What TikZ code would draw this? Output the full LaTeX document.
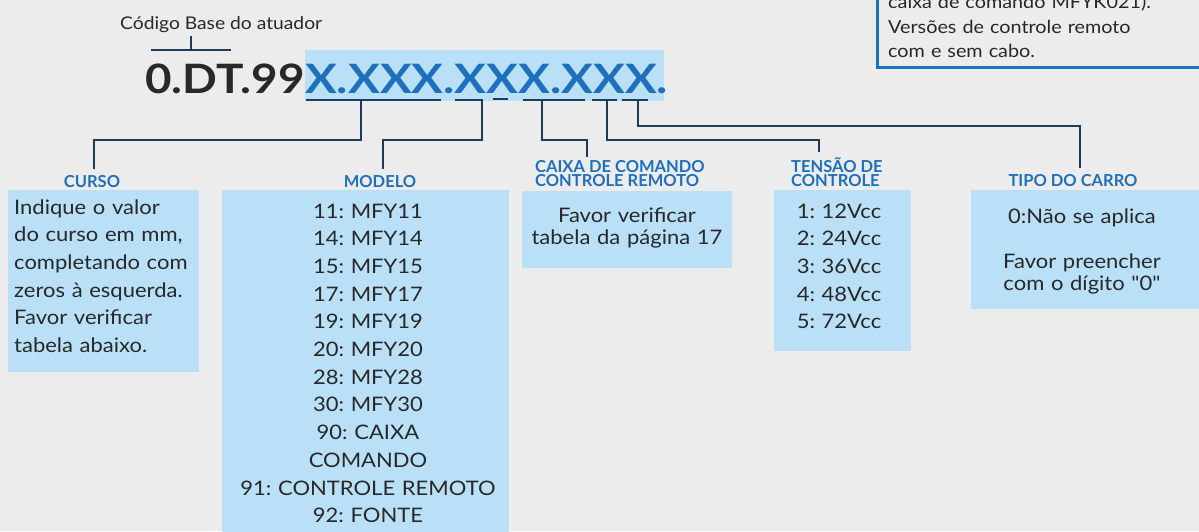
\documentclass[tikz,border=0pt]{standalone}
\usepackage{fontspec}
\setmainfont{Lato}[FakeStretch=1.1, Ligatures=TeXOff]
\newfontfamily\lblfont{Lato}[Ligatures=TeXOff]
\newfontfamily\codeblack{Lato}[FakeStretch=1.13]
\newfontfamily\codeblue{Lato}[FakeStretch=1.17]
\usepackage{tikz}

\definecolor{bggray}{RGB}{236,236,236}
\definecolor{boxblue}{RGB}{185,224,247}
\definecolor{codeblue}{RGB}{30,112,190}
\definecolor{linenavy}{RGB}{30,58,92}
\definecolor{txtdark}{RGB}{40,40,40}

\tikzset{
  box/.style={fill=boxblue},
  link/.style={draw=linenavy, line width=2.4pt},
  uline/.style={draw=linenavy, line width=2pt},
  lbl/.style={text=codeblue, inner sep=0pt, align=left,
    font=\lblfont\bfseries\fontsize{16.5}{13.5}\selectfont},
  boxtxt/.style={text=txtdark, inner sep=0pt,
    font=\fontsize{20}{27.7}\selectfont},
}

\begin{document}
\frenchspacing
\begin{tikzpicture}[x=1pt,y=-1pt]
  \useasboundingbox (0,0) rectangle (1199,531);
  \fill[bggray] (0,0) rectangle (1199,531);

  % nota no canto
  \draw[codeblue, line width=3pt] (877,-10) -- (877,67) -- (1210,67);
  \node[anchor=base west, text width=310pt, align=left, inner sep=0pt, text=txtdark,
    font=\fontsize{18}{24.5}\selectfont] (nota) at (888,8.5)
    {caixa de comando MFYK021).\\Versões de controle remoto\\com e sem cabo.};

  % codigo base
  \node[anchor=base west, inner sep=0pt, text=txtdark, font=\fontsize{17.5}{20}\selectfont]
    (basecap) at (120,29) {Código Base do atuador};
  \coordinate (tick) at (191,50);
  \draw[uline] (151,50) -- (231,50);
  \draw[uline] (tick) -- ++(0,-14);

  \fill[boxblue] (305,50) rectangle (664,101);
  \node[anchor=base east, inner sep=0pt, text=txtdark, font=\codeblack\bfseries\fontsize{40.5}{40}\selectfont]
    (codea) at (305,93) {0.DT.99};
  \node[anchor=base west, inner sep=0pt, text=codeblue, font=\codeblue\bfseries\fontsize{40.5}{40}\selectfont]
    (codeb) at (codea.base east) {X.XXX.XXX.XXX.};
  \foreach \a/\b in {306/441,455/483,523/585,592/617,622/648}
    \draw[uline] (\a,100) -- (\b,100);
  \draw[uline, line width=2.4pt] (493,99) -- (508,99);

  \coordinate (u1) at (361,100);
  \coordinate (u2) at (482,100);
  \coordinate (u3) at (542,100);
  \coordinate (u4) at (607,100);
  \coordinate (u5) at (638,100);

  % rotulos
  \node[lbl, anchor=base] (cursolbl) at (92,187) {CURSO};
  \node[lbl, anchor=base] (modlbl) at (380,187) {MODELO};
  \node[lbl, anchor=base west] (caixalbl) at (535,186) {CAIXA DE COMANDO\\CONTROLE REMOTO};
  \node[lbl, anchor=base west] (tenslbl) at (791,186) {TENSÃO DE\\CONTROLE};
  \node[lbl, anchor=base] (tipolbl) at (1073,186) {TIPO DO CARRO};

  \draw[link] (u1) -- (361,140) -| ([xshift=2pt,yshift=6pt]cursolbl.north);
  \draw[link] (u2) -- (482,140) -| ([xshift=3pt,yshift=6pt]modlbl.north);
  \draw[link] (u3) -- (542,140) -| ([xshift=-33pt,yshift=3pt]caixalbl.north);
  \draw[link] (u4) -- (607,140) -| ([xshift=-18pt,yshift=5pt]tenslbl.north);
  \draw[link] (u5) -- (638,126) -| ([xshift=7pt,yshift=6pt]tipolbl.north);

  % caixas
  \fill[box] (8,190) rectangle (199,372);
  \node[boxtxt, anchor=base west, text width=185pt, align=left] (cursotxt) at (14,214)
    {Indique o valor\\do curso em mm,\\completando com\\zeros à esquerda.\\Favor verificar\\tabela abaixo.};

  \fill[box] (222,190) rectangle (509,540);
  \node[boxtxt, anchor=base, text width=285pt, align=center] (modtxt) at (368,218)
    {11: MFY11\\14: MFY14\\15: MFY15\\17: MFY17\\19: MFY19\\20: MFY20\\28: MFY28\\30: MFY30\\90: CAIXA\\COMANDO\\91: CONTROLE REMOTO\\92: FONTE};

  \fill[box] (522,191) rectangle (732,268);
  \node[boxtxt, anchor=base, text width=205pt, align=center, font=\fontsize{20}{22}\selectfont]
    (caixatxt) at (627,222) {Favor verificar\\tabela da página 17};

  \fill[box] (774,190) rectangle (911,351);
  \node[boxtxt, anchor=base, text width=135pt, align=center] (tenstxt) at (839,218)
    {1: 12Vcc\\2: 24Vcc\\3: 36Vcc\\4: 48Vcc\\5: 72Vcc};

  \fill[box] (971,190) rectangle (1205,309);
  \node[boxtxt, anchor=base, text width=225pt, align=center, font=\fontsize{20}{22}\selectfont]
    (tipotxt) at (1082,223) {0:Não se aplica\\[23pt]Favor preencher\\com o dígito "0"};
\end{tikzpicture}
\end{document}
